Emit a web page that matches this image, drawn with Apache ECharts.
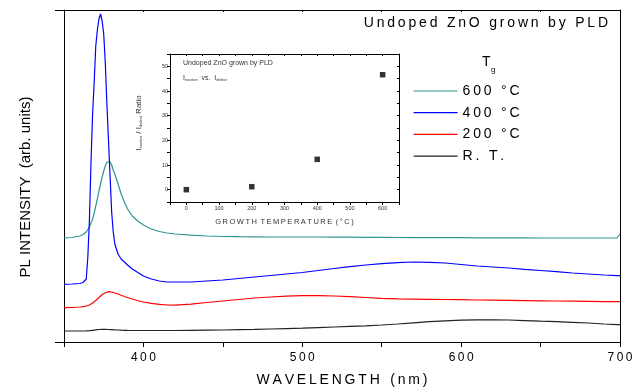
<!DOCTYPE html>
<html>
<head>
<meta charset="utf-8">
<script src="https://cdn.jsdelivr.net/npm/echarts@6/dist/echarts.min.js"></script>
<style>
  html, body { margin: 0; padding: 0; background: #fff; }
  #chart { width: 641px; height: 391px; }
</style>
</head>
<body>
<div id="chart"></div>
<script>
// wavelength samples (nm)
const wavelength = [350, 355, 360, 362, 364,
  365, 366, 367, 368, 369, 370, 371, 372, 373, 374, 375, 376, 377, 378, 379, 380, 381, 382,
  384, 386, 388, 390, 393, 396, 400,
  405, 410, 415, 420,
  430, 440, 450, 460, 470, 480, 490, 500, 510, 520, 530, 540, 550, 560, 570, 580, 590, 600,
  610, 620, 630, 640, 650, 660, 670, 680, 690,
  698, 700]

// PL intensity (arb. units, offset curves)
const pl600 = [104, 104.5, 106, 107.5, 110,
  112, 115, 119, 123, 129, 136, 143, 151, 158, 165, 171, 176, 180, 181.3, 180, 177, 172, 168,
  158, 148, 140, 133, 126, 121.5, 117,
  113, 110.5, 109, 108,
  106.8, 106, 105.5, 105.3, 105.2, 105, 105, 105, 105, 104.8, 104.8, 104.7, 104.6, 104.5, 104.4, 104.4, 104.3, 104.3,
  104.2, 104.2, 104.1, 104.1, 104, 104, 104, 104, 104,
  104, 108]
const pl400 = [57.7, 58, 58.5, 59.5, 63,
  85, 122, 180, 228, 260, 296, 312, 323, 328, 321, 308, 279, 238, 202, 166, 130, 110, 98,
  88, 83, 80, 77, 73, 70, 66,
  63, 61, 60, 60,
  60, 61, 62, 63.5, 65, 66.5, 68, 69.5, 71.5, 73.5, 75.3, 77, 78.3, 79.3, 80, 79.7, 79, 77.5,
  76, 75, 74, 72.7, 71.5, 70.3, 69, 68, 67,
  66.3, 66.3]
const pl200 = [34.3, 34.5, 35, 35.3, 36,
  36.5, 37, 38, 39, 40, 41.5, 43, 44.5, 46, 47.5, 48.5, 49.3, 50, 50.3, 50.3, 50, 49.5, 49,
  48, 46.7, 45.5, 44.5, 43, 41.5, 40,
  38.7, 37.7, 37, 36.8,
  37.8, 39.5, 41, 42.5, 44, 45, 45.8, 46.3, 46.3, 46, 45.3, 44.5, 43.6, 43.1, 42.9, 42.7, 42.5, 42.3,
  42, 41.8, 41.6, 41.4, 41.2, 41, 40.8, 40.6, 40.4,
  40.3, 40.3]
const plRT = [11, 11, 11, 11, 11.1,
  11.2, 11.3, 11.5, 11.7, 11.9, 12.1, 12.3, 12.5, 12.6, 12.7, 12.7, 12.7, 12.6, 12.5, 12.4, 12.3, 12.2, 12.1,
  12, 11.8, 11.7, 11.6, 11.5, 11.5, 11.5,
  11.5, 11.5, 11.5, 11.5,
  11.6, 11.8, 12, 12.3, 12.6, 13, 13.4, 13.8, 14.4, 15, 15.6, 16.2, 17, 18, 19.2, 20.3, 21.2, 21.8,
  22.1, 22.2, 22, 21.4, 20.8, 20.3, 19.7, 19, 18,
  17.3, 17.3]

// inset: exciton / defect ratio vs growth temperature
const growthTemp = [0, 200, 400, 600]
const ratio = [0, 1.2, 12.3, 46.6]

const seriesNames = ['600 °C', '400 °C', '200 °C', 'R. T.']
const seriesColors = ['#2f9590', '#0000ff', '#ff0000', '#222222']

const FONT = "'Liberation Sans', Arial, sans-serif"
// wide letter spacing like the original export
const sp = s => String(s).split('').join('\u2009')
const pair = ys => wavelength.map((w, i) => [w, ys[i]])

const chart = echarts.init(document.getElementById('chart'))

const blackLine = { show: true, onZero: false, lineStyle: { color: '#000', width: 1 } }

const mainLine = (name, ys, color) => ({
  name: name,
  type: 'line',
  xAxisIndex: 0,
  yAxisIndex: 0,
  data: pair(ys),
  symbol: 'none',
  showSymbol: false,
  lineStyle: { color: color, width: 1.2 },
  itemStyle: { color: color },
  animation: false
})

const subRich = {
  a: { fontSize: 7, color: '#333', fontFamily: FONT, lineHeight: 9, verticalAlign: 'bottom' },
  s: { fontSize: 4, color: '#333', fontFamily: FONT, lineHeight: 4, verticalAlign: 'bottom' }
}

const option = {
  animation: false,
  textStyle: { fontFamily: FONT },
  title: {
    text: sp('Undoped ZnO grown by PLD'),
    right: 33,
    top: 16,
    padding: 0,
    textStyle: { fontSize: 14, fontWeight: 'normal', color: '#000', fontFamily: FONT }
  },
  legend: {
    data: seriesNames,
    orient: 'vertical',
    left: 413,
    top: 84,
    itemWidth: 44,
    itemHeight: 14,
    itemGap: 7.7,
    padding: 0,
    itemStyle: { opacity: 0 },
    lineStyle: { width: 1.2 },
    formatter: name => sp(name),
    textStyle: { fontSize: 14, color: '#000', lineHeight: 14, fontFamily: FONT }
  },
  grid: [
    { left: 64, right: 21, top: 10, bottom: 49, outerBoundsMode: 'none', containLabel: false },
    { left: 170, top: 54, width: 229, height: 148, outerBoundsMode: 'none', containLabel: false }
  ],
  xAxis: [
    {
      type: 'value', gridIndex: 0, position: 'bottom',
      min: 350, max: 700, interval: 50,
      axisLine: blackLine,
      axisTick: { show: true, inside: false, length: 5, lineStyle: { color: '#000' } },
      axisLabel: {
        margin: 10, fontSize: 12, color: '#000',
        formatter: v => (v % 100 === 0 ? sp(v) : '')
      },
      splitLine: { show: false },
      name: sp('WAVELENGTH') + '\u2009  ' + sp('(nm)'),
      nameLocation: 'middle',
      nameGap: 31,
      nameTextStyle: { fontSize: 14, color: '#000' }
    },
    {
      type: 'value', gridIndex: 0, position: 'top',
      min: 350, max: 700, interval: 50,
      axisLine: blackLine,
      axisTick: { show: true, inside: true, length: 2, lineStyle: { color: '#000' } },
      axisLabel: { show: false },
      splitLine: { show: false }
    },
    {
      type: 'value', gridIndex: 1, position: 'bottom',
      min: -50, max: 650, interval: 50,
      axisLine: blackLine,
      axisTick: { show: true, inside: false, length: 3, lineStyle: { color: '#000' } },
      axisLabel: {
        margin: 3, fontSize: 5.5, color: '#333',
        formatter: v => (v % 100 === 0 && v >= 0 && v <= 600 ? v : '')
      },
      splitLine: { show: false },
      name: sp('GROWTH') + '\u2009 ' + sp('TEMPERATURE') + '\u2009 ' + sp('(°C)'),
      nameLocation: 'middle',
      nameGap: 16,
      nameTextStyle: { fontSize: 7.5, color: '#333' }
    },
    {
      type: 'value', gridIndex: 1, position: 'top',
      min: -50, max: 650, interval: 50,
      axisLine: blackLine,
      axisTick: { show: true, inside: true, length: 2, lineStyle: { color: '#000' } },
      axisLabel: { show: false },
      splitLine: { show: false }
    }
  ],
  yAxis: [
    {
      type: 'value', gridIndex: 0, position: 'left',
      min: 0, max: 332, interval: 332,
      axisLine: blackLine,
      axisTick: { show: true, inside: false, length: 9, lineStyle: { color: '#000' } },
      axisLabel: { show: false },
      splitLine: { show: false },
      name: 'PL INTENSITY  (arb. units)',
      nameLocation: 'middle',
      nameRotate: 90,
      nameGap: 31,
      nameTextStyle: { fontSize: 15, color: '#000', padding: [0, 22, 0, 0] }
    },
    {
      type: 'value', gridIndex: 0, position: 'right',
      min: 0, max: 332, interval: 332,
      axisLine: blackLine,
      axisTick: { show: false },
      axisLabel: { show: false },
      splitLine: { show: false }
    },
    {
      type: 'value', gridIndex: 1, position: 'left',
      min: -5, max: 55, interval: 5,
      axisLine: blackLine,
      axisTick: { show: true, inside: false, length: 3, lineStyle: { color: '#000' } },
      axisLabel: {
        margin: 2, fontSize: 5.5, color: '#333',
        formatter: v => (v % 10 === 0 && v >= 0 && v <= 50 ? v : '')
      },
      splitLine: { show: false },
      name: '{a|I}{s|exciton}{a| / I}{s|defect}{a| Ratio}',
      nameLocation: 'middle',
      nameRotate: 90,
      nameGap: 27,
      nameTextStyle: {
        fontSize: 7, color: '#333', padding: [0, 0, 0, 10],
        rich: {
          a: { fontSize: 8, color: '#333', fontFamily: FONT, lineHeight: 10, verticalAlign: 'bottom' },
          s: { fontSize: 4, color: '#333', fontFamily: FONT, lineHeight: 4, verticalAlign: 'bottom' }
        }
      }
    },
    {
      type: 'value', gridIndex: 1, position: 'right',
      min: -5, max: 55, interval: 5,
      axisLine: blackLine,
      axisTick: { show: true, inside: true, length: 2, lineStyle: { color: '#000' } },
      axisLabel: { show: false },
      splitLine: { show: false }
    }
  ],
  graphic: [
    { type: 'text', left: 482, top: 55, style: { text: 'T', fontSize: 14, fill: '#000', fontFamily: FONT } },
    { type: 'text', left: 491, top: 66, style: { text: 'g', fontSize: 8, fill: '#000', fontFamily: FONT } },
    { type: 'text', left: 183, top: 60, style: { text: 'Undoped ZnO grown by PLD', fontSize: 7, fill: '#333', fontFamily: FONT } },
    {
      type: 'text', left: 183, top: 75,
      style: { text: '{a|I}{s|exciton}{a|  vs.  I}{s|defect}', rich: subRich, fill: '#333', fontFamily: FONT }
    }
  ],
  series: [
    mainLine(seriesNames[3], plRT, seriesColors[3]),
    mainLine(seriesNames[2], pl200, seriesColors[2]),
    mainLine(seriesNames[0], pl600, seriesColors[0]),
    mainLine(seriesNames[1], pl400, seriesColors[1]),
    {
      name: 'ratio',
      type: 'scatter',
      xAxisIndex: 2,
      yAxisIndex: 2,
      data: growthTemp.map((t, i) => [t, ratio[i]]),
      symbol: 'rect',
      symbolSize: 5.5,
      itemStyle: { color: '#000' },
      animation: false
    }
  ]
}

chart.setOption(option)
</script>
</body>
</html>
